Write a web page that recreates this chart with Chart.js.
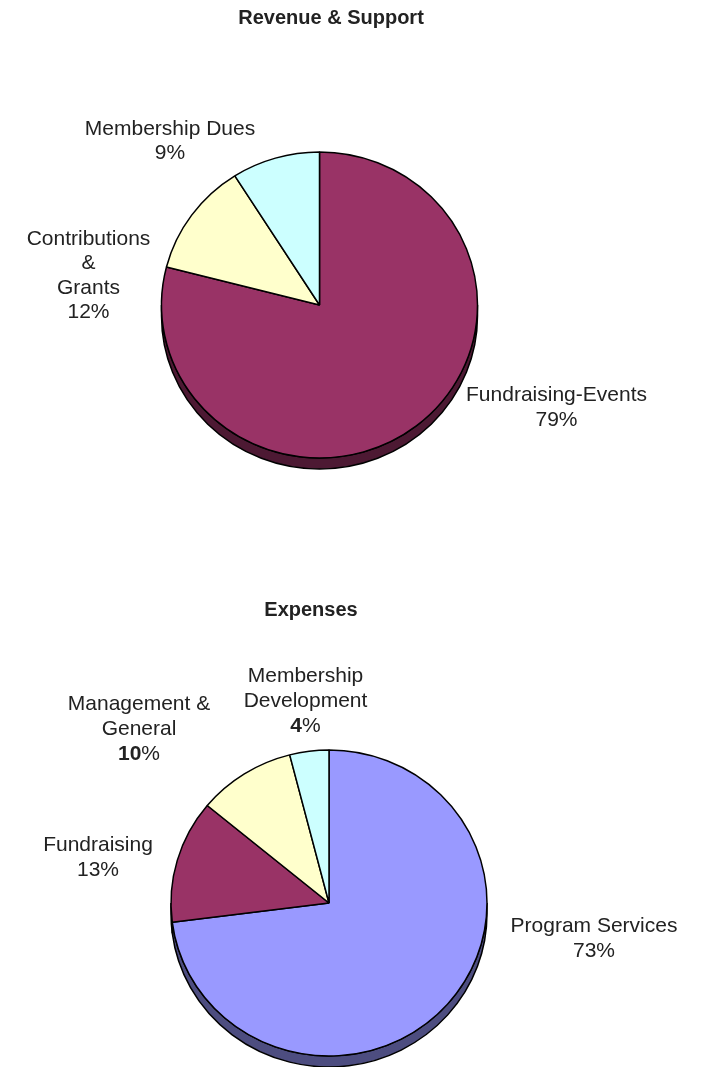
<!DOCTYPE html>
<html>
<head>
<meta charset="utf-8">
<script src="https://cdn.jsdelivr.net/npm/chart.js@4"></script>
<style>
  body { margin: 0; background: #fff; }
  canvas { position: absolute; left: 0; }
</style>
</head>
<body>
<canvas id="rev" width="705" height="610" style="top:0"></canvas>
<canvas id="exp" width="705" height="527" style="top:540px"></canvas>
<script>
// revenue pie
const revLabels = ["Fundraising-Events", ["Contributions", "&", "Grants"], "Membership Dues"];
const revValues = [79, 12, 9];
const revColors = ["#993366", "#FFFFCC", "#CCFFFF"];
const revSides = ["#4D1933", "#80806A", "#6A8080"];

// expenses pie
const expLabels = ["Program Services", "Fundraising", ["Management &", "General"], ["Membership", "Development"]];
const expValues = [73, 13, 10, 4];
const expColors = ["#9999FF", "#993366", "#FFFFCC", "#CCFFFF"];
const expSides = ["#4D4D80", "#4D1933", "#80806A", "#6A8080"];

const FONT = "Arial, 'Liberation Sans', sans-serif";

// fake 3d: squash the pie a bit and draw the side band under the lower half
const pie3d = {
  id: "pie3d",
  beforeDatasetsDraw(chart, args, opts) {
    const ctx = chart.ctx;
    const arcs = chart.getDatasetMeta(0).data;
    const cx = arcs[0].x, cy = arcs[0].y;
    const s = opts.squash;
    ctx.save();
    ctx.translate(cx, cy);
    ctx.scale(1, s);
    ctx.translate(-cx, -cy);
    const depth = opts.depth / s;
    arcs.forEach((arc, i) => {
      const r = arc.outerRadius;
      [[0, Math.PI], [2 * Math.PI, 3 * Math.PI], [-2 * Math.PI, -Math.PI]].forEach(([lo, hi]) => {
        const a = Math.max(arc.startAngle, lo);
        const b = Math.min(arc.endAngle, hi);
        if (b <= a) return;
        ctx.beginPath();
        ctx.arc(cx, cy, r, a, b);
        ctx.arc(cx, cy + depth, r, b, a, true);
        ctx.closePath();
        ctx.fillStyle = opts.sides[i];
        ctx.fill();
        ctx.lineWidth = 1.5;
        ctx.strokeStyle = "#000";
        ctx.stroke();
      });
    });
  },
  afterDatasetsDraw(chart) {
    chart.ctx.restore();
  }
};

// title + slice labels placed around the pie
const pieText = {
  id: "pieText",
  afterDraw(chart, args, opts) {
    const ctx = chart.ctx;
    const arcs = chart.getDatasetMeta(0).data;
    const cx = arcs[0].x, cy = arcs[0].y;
    const values = chart.data.datasets[0].data;
    const total = values.reduce((a, b) => a + b, 0);
    ctx.save();
    ctx.fillStyle = "#222";
    ctx.textBaseline = "middle";
    ctx.textAlign = "center";
    ctx.font = "bold 20px " + FONT;
    ctx.fillText(opts.title, cx + opts.titlePos[0], cy + opts.titlePos[1]);

    chart.data.labels.forEach((lab, i) => {
      const lines = Array.isArray(lab) ? lab : [lab];
      const x = cx + opts.offsets[i][0];
      let y = cy + opts.offsets[i][1];
      ctx.font = "21px " + FONT;
      ctx.textAlign = "center";
      lines.forEach(t => {
        ctx.fillText(t, x, y);
        y += opts.lineHeight;
      });
      const num = String(Math.round(values[i] / total * 100));
      const numFont = (opts.boldNum[i] ? "bold " : "") + "21px " + FONT;
      ctx.font = numFont;
      const w1 = ctx.measureText(num).width;
      ctx.font = "21px " + FONT;
      const w2 = ctx.measureText("%").width;
      ctx.textAlign = "left";
      ctx.font = numFont;
      ctx.fillText(num, x - (w1 + w2) / 2, y);
      ctx.font = "21px " + FONT;
      ctx.fillText("%", x - (w1 + w2) / 2 + w1, y);
    });
    ctx.restore();
  }
};

function makePie(id, labels, values, colors, sides, pad, text) {
  return new Chart(document.getElementById(id), {
    type: "pie",
    data: {
      labels: labels,
      datasets: [{
        data: values,
        backgroundColor: colors,
        borderColor: "#000",
        borderWidth: 1.5,
        radius: 158
      }]
    },
    options: {
      responsive: false,
      animation: false,
      layout: { padding: pad },
      plugins: {
        legend: { display: false },
        tooltip: { enabled: false },
        pie3d: { squash: 0.968, depth: 11, sides: sides },
        pieText: text
      }
    },
    plugins: [pie3d, pieText]
  });
}

makePie("rev", revLabels, revValues, revColors, revSides,
  { top: 0, right: 66, bottom: 0, left: 0 },
  {
    title: "Revenue & Support",
    titlePos: [11.5, -286.5],
    lineHeight: 24.5,
    offsets: [[237, 90.5], [-231, -66], [-149.5, -176]],
    boldNum: [false, false, false]
  });

makePie("exp", expLabels, expValues, expColors, expSides,
  { top: 199, right: 47, bottom: 0, left: 0 },
  {
    title: "Expenses",
    titlePos: [-18, -293],
    lineHeight: 25,
    offsets: [[265, 23.5], [-231, -58], [-190, -198.5], [-23.5, -227]],
    boldNum: [false, false, true, true]
  });
</script>
</body>
</html>
